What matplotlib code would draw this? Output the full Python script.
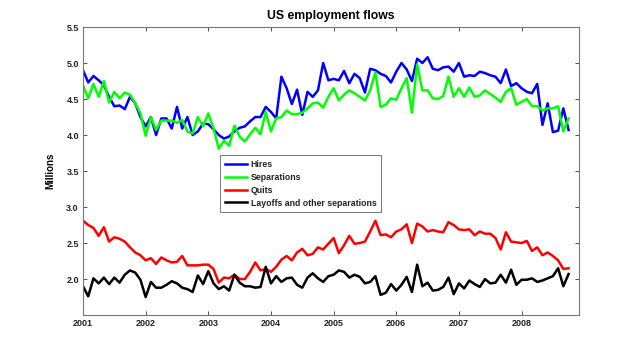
import matplotlib
matplotlib.use("Agg")
import matplotlib.pyplot as plt
import numpy as np

plt.rcParams['font.family'] = ['Liberation Sans', 'DejaVu Sans']

start_year = 2001
hires = [4.90, 4.73, 4.82, 4.76, 4.69, 4.53, 4.40, 4.41, 4.36, 4.53, 4.44, 4.25,
         4.12, 4.25, 4.00, 4.23, 4.23, 4.09, 4.39, 4.09, 4.25, 4.00, 4.05, 4.16,
         4.15, 4.08, 4.00, 3.95, 3.98, 4.05, 4.10, 4.12, 4.19, 4.25, 4.25, 4.39,
         4.32, 4.23, 4.81, 4.65, 4.43, 4.63, 4.28, 4.60, 4.53, 4.62, 5.00, 4.76,
         4.78, 4.76, 4.89, 4.72, 4.85, 4.79, 4.59, 4.92, 4.90, 4.85, 4.82, 4.73,
         4.88, 5.00, 4.91, 4.75, 5.06, 5.00, 5.08, 4.92, 4.90, 4.94, 4.95, 4.88,
         5.00, 4.81, 4.83, 4.82, 4.88, 4.86, 4.83, 4.81, 4.72, 4.91, 4.68, 4.72,
         4.65, 4.60, 4.58, 4.71, 4.14, 4.44, 4.04, 4.06, 4.37, 4.07]
separations = [4.69, 4.51, 4.71, 4.53, 4.75, 4.45, 4.60, 4.51, 4.59, 4.56, 4.44, 4.30,
               3.99, 4.25, 4.07, 4.20, 4.20, 4.20, 4.17, 4.21, 4.05, 4.02, 4.25, 4.12,
               4.30, 4.09, 3.81, 3.92, 3.85, 4.13, 3.98, 3.91, 4.01, 4.10, 4.01, 4.32,
               4.05, 4.23, 4.25, 4.34, 4.29, 4.29, 4.31, 4.37, 4.44, 4.45, 4.38, 4.53,
               4.65, 4.48, 4.56, 4.62, 4.58, 4.53, 4.48, 4.62, 4.87, 4.39, 4.42, 4.51,
               4.49, 4.65, 4.79, 4.31, 4.98, 4.62, 4.62, 4.51, 4.50, 4.54, 4.81, 4.53,
               4.65, 4.53, 4.66, 4.53, 4.55, 4.62, 4.57, 4.52, 4.46, 4.60, 4.65, 4.42,
               4.46, 4.50, 4.40, 4.40, 4.34, 4.37, 4.37, 4.40, 4.05, 4.23]
quits = [2.81, 2.75, 2.71, 2.60, 2.72, 2.52, 2.58, 2.56, 2.52, 2.44, 2.37, 2.33,
         2.26, 2.29, 2.21, 2.30, 2.26, 2.23, 2.24, 2.32, 2.19, 2.19, 2.19, 2.20,
         2.20, 2.14, 1.95, 2.02, 2.01, 2.06, 2.00, 2.00, 2.10, 2.23, 2.12, 2.14,
         2.10, 2.17, 2.27, 2.32, 2.26, 2.37, 2.42, 2.33, 2.35, 2.44, 2.41, 2.49,
         2.57, 2.36, 2.47, 2.60, 2.49, 2.50, 2.52, 2.66, 2.81, 2.61, 2.62, 2.58,
         2.66, 2.69, 2.76, 2.50, 2.77, 2.73, 2.66, 2.68, 2.66, 2.65, 2.79, 2.75,
         2.69, 2.68, 2.69, 2.61, 2.66, 2.63, 2.63, 2.57, 2.41, 2.65, 2.52, 2.51,
         2.50, 2.53, 2.39, 2.44, 2.33, 2.37, 2.32, 2.26, 2.14, 2.15]
layoffs = [1.90, 1.76, 2.01, 1.94, 2.02, 1.93, 2.02, 1.95, 2.06, 2.12, 2.09, 1.99,
           1.75, 1.96, 1.88, 1.88, 1.92, 1.97, 1.94, 1.88, 1.86, 1.82, 2.05, 1.93,
           2.11, 1.94, 1.86, 1.90, 1.84, 2.06, 1.95, 1.90, 1.90, 1.88, 1.89, 2.17,
           1.94, 2.04, 1.96, 2.01, 2.02, 1.92, 1.88, 2.02, 2.08, 2.01, 1.96, 2.04,
           2.06, 2.12, 2.10, 2.02, 2.06, 2.03, 1.94, 1.96, 2.04, 1.78, 1.81, 1.93,
           1.84, 1.92, 2.03, 1.82, 2.20, 1.90, 1.95, 1.84, 1.85, 1.89, 2.02, 1.79,
           1.94, 1.87, 1.98, 1.93, 1.89, 2.00, 1.94, 1.95, 2.06, 1.95, 2.13, 1.92,
           1.99, 1.99, 2.01, 1.96, 1.98, 2.01, 2.04, 2.15, 1.90, 2.07]
year_labels = ['2001', '2002', '2003', '2004', '2005', '2006', '2007', '2008']
y_ticks = [2.0, 2.5, 3.0, 3.5, 4.0, 4.5, 5.0, 5.5]

months = start_year + np.arange(len(hires)) / 12.0

fig = plt.figure(figsize=(6.4, 3.54), dpi=100)
ax = fig.add_axes([0.1297, 0.110, 0.775, 0.8137])

lw = 1.8
ax.plot(months, hires, color='#0000ff', lw=lw, label='Hires')
ax.plot(months, separations, color='#00ff00', lw=lw, label='Separations')
ax.plot(months, quits, color='#ff0000', lw=lw, label='Quits')
ax.plot(months, layoffs, color='#000000', lw=lw, label='Layoffs and other separations')

ax.set_xlim(2001, 2001 + 95 / 12.0)
ax.set_ylim(1.5, 5.5)
ax.set_xticks([int(y) for y in year_labels])
ax.set_xticklabels(year_labels)
ax.set_yticks(y_ticks)
ax.set_yticklabels(['%.1f' % v for v in y_ticks])

ax.tick_params(direction='in', top=True, right=True, length=3, width=0.6,
               labelsize=6.5, colors='#333333', pad=3)
for lab in ax.get_xticklabels() + ax.get_yticklabels():
    lab.set_fontweight('bold')
    lab.set_color('#222222')
for s in ax.spines.values():
    s.set_color('#777777')
    s.set_linewidth(0.8)

ax.set_title('US employment flows', fontsize=8.8, fontweight='bold', pad=6)
ax.set_ylabel('Millions', fontsize=7, fontweight='bold', labelpad=8)

leg = ax.legend(loc='upper left', bbox_to_anchor=(0.276, 0.556), fontsize=6.3,
                frameon=True, fancybox=False, borderpad=0.55, labelspacing=0.45,
                handlelength=2.6, handletextpad=0.35, borderaxespad=0)
leg.get_frame().set_edgecolor('#555555')
leg.get_frame().set_linewidth(0.7)
for t in leg.get_texts():
    t.set_fontweight('bold')
    t.set_color('#222222')

fig.savefig('out.png', dpi=100)
